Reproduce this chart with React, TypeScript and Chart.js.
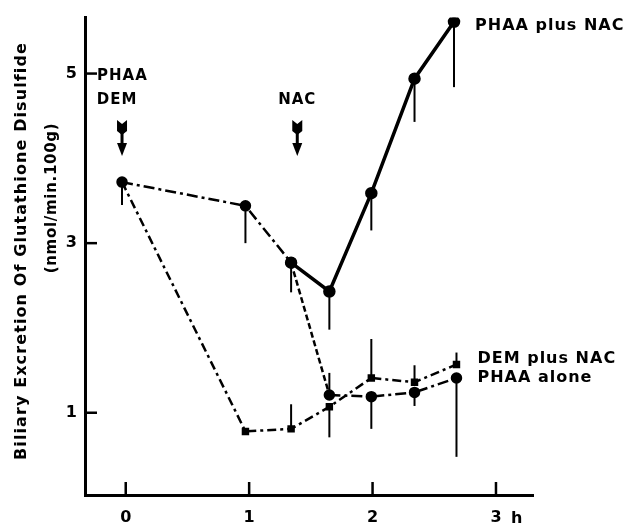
import React, { useEffect, useRef } from "react";
import { Chart, registerables } from "chart.js";
Chart.register(...registerables);

// ---- data ----
const tickHours = [0, 1, 2, 3];
const tickValues = [1, 3, 5];

const phaaNacTimes = [1.34, 1.65, 1.99, 2.34, 2.66];
const phaaNacValues = [2.77, 2.43, 3.59, 4.94, 5.61];
const phaaNacErrEnds = [2.42, 1.98, 3.15, 4.43, 4.84];

const phaaAloneTimes = [-0.03, 0.97, 1.34, 1.65, 1.99, 2.34, 2.68];
const phaaAloneValues = [3.72, 3.44, 2.77, 1.21, 1.19, 1.24, 1.41];
const phaaAloneErrEnds: (number | null)[] = [3.45, 3.0, null, 1.47, 0.81, 1.08, 0.48];

const demNacTimes = [-0.03, 0.97, 1.34, 1.65, 1.99, 2.34, 2.68];
const demNacValues = [3.72, 0.78, 0.81, 1.07, 1.41, 1.36, 1.57];
const demNacErrEnds: (number | null)[] = [null, null, 1.1, 0.71, 1.87, 1.56, 1.71];

const seriesNames = ["PHAA plus NAC", "PHAA alone", "DEM plus NAC"];
const doseTimes = [-0.03, 1.39];
const doseLabels = ["DEM", "NAC"];
const phaaLabel = "PHAA";
const yTitle = "Biliary Excretion Of Glutathione Disulfide";
const yUnit = "(nmol/min.100g)";
const xUnit = "h";

const FONT = "'DejaVu Sans', 'Liberation Sans', Arial, sans-serif";

const toPts = (xs: number[], ys: number[]) => xs.map((x, i) => ({ x, y: ys[i] }));

const errSets = [phaaNacErrEnds, phaaAloneErrEnds, demNacErrEnds];
const legendOffsets = [4, 0, -6];

const overlay = {
  id: "overlay",
  beforeDatasetsDraw(chart: any) {
    const ctx = chart.ctx;
    const xs = chart.scales.x;
    const ys = chart.scales.y;
    ctx.save();
    ctx.strokeStyle = "#000";
    ctx.lineWidth = 2;
    chart.data.datasets.forEach((ds: any, di: number) => {
      const ends = errSets[di];
      ds.data.forEach((p: any, i: number) => {
        const e = ends[i];
        if (e == null) return;
        const px = xs.getPixelForValue(p.x);
        ctx.beginPath();
        ctx.moveTo(px, ys.getPixelForValue(p.y));
        ctx.lineTo(px, ys.getPixelForValue(e));
        ctx.stroke();
      });
    });
    ctx.restore();
  },
  afterDraw(chart: any) {
    const ctx = chart.ctx;
    const xs = chart.scales.x;
    const ys = chart.scales.y;
    const area = chart.chartArea;
    ctx.save();
    ctx.fillStyle = "#000";
    ctx.strokeStyle = "#000";
    // inner ticks
    ctx.lineWidth = 2.5;
    ys.ticks.forEach((t: any) => {
      const py = ys.getPixelForValue(t.value);
      ctx.beginPath();
      ctx.moveTo(area.left, py);
      ctx.lineTo(area.left + 12, py);
      ctx.stroke();
    });
    xs.ticks.forEach((t: any) => {
      const px = xs.getPixelForValue(t.value);
      ctx.beginPath();
      ctx.moveTo(px, area.bottom);
      ctx.lineTo(px, area.bottom - 13);
      ctx.stroke();
    });
    // x unit
    ctx.font = `bold 16px ${FONT}`;
    ctx.textBaseline = "middle";
    ctx.textAlign = "left";
    ctx.fillText(xUnit, xs.getPixelForValue(tickHours[tickHours.length - 1]) + 15, area.bottom + 24);

    // y titles
    (ctx as any).letterSpacing = "1.1px";
    ctx.font = `bold 16px ${FONT}`;
    ctx.textAlign = "center";
    ctx.textBaseline = "alphabetic";
    ctx.save();
    ctx.translate(26, 251);
    ctx.rotate(-Math.PI / 2);
    ctx.fillText(yTitle, 0, 0);
    ctx.restore();
    (ctx as any).letterSpacing = "0.7px";
    ctx.font = `bold 15px ${FONT}`;
    ctx.save();
    ctx.translate(56, 198);
    ctx.rotate(-Math.PI / 2);
    ctx.fillText(yUnit, 0, 0);
    ctx.restore();

    // dose arrows
    (ctx as any).letterSpacing = "1px";
    ctx.font = `bold 15px ${FONT}`;
    ctx.textBaseline = "middle";
    ctx.textAlign = "left";
    ctx.fillText(phaaLabel, area.left + 12, ys.getPixelForValue(5) + 3);
    doseTimes.forEach((t, i) => {
      const px = xs.getPixelForValue(t);
      ctx.textAlign = "center";
      ctx.fillText(doseLabels[i], px - (i === 0 ? 5 : 0), 100);
      const top = 120;
      // fletching
      ctx.beginPath();
      ctx.moveTo(px - 5, top);
      ctx.lineTo(px, top + 4);
      ctx.lineTo(px + 5, top);
      ctx.lineTo(px + 5, top + 11);
      ctx.lineTo(px, top + 15);
      ctx.lineTo(px - 5, top + 11);
      ctx.closePath();
      ctx.fill();
      ctx.lineWidth = 3;
      ctx.beginPath();
      ctx.moveTo(px, top + 12);
      ctx.lineTo(px, top + 25);
      ctx.stroke();
      ctx.beginPath();
      ctx.moveTo(px - 5, top + 23);
      ctx.lineTo(px + 5, top + 23);
      ctx.lineTo(px, top + 36);
      ctx.closePath();
      ctx.fill();
    });

    // series labels
    (ctx as any).letterSpacing = "1px";
    ctx.font = `bold 16px ${FONT}`;
    ctx.textAlign = "left";
    ctx.textBaseline = "middle";
    chart.data.datasets.forEach((ds: any, di: number) => {
      const last = ds.data[ds.data.length - 1];
      const px = xs.getPixelForValue(last.x);
      const py = ys.getPixelForValue(last.y);
      ctx.fillText(seriesNames[di], px + 21, py + legendOffsets[di]);
    });
    ctx.restore();
  },
};

export default function App() {
  const ref = useRef<HTMLCanvasElement | null>(null);
  useEffect(() => {
    document.body.style.margin = "0";
    const chart = new Chart(ref.current!, {
      type: "line",
      data: {
        datasets: [
          {
            label: seriesNames[0],
            data: toPts(phaaNacTimes, phaaNacValues),
            borderColor: "#000",
            backgroundColor: "#000",
            borderWidth: 3.5,
            pointRadius: 4.5,
            pointStyle: "circle",
          },
          {
            label: seriesNames[1],
            data: toPts(phaaAloneTimes, phaaAloneValues),
            borderColor: "#000",
            backgroundColor: "#000",
            borderWidth: 2.5,
            borderDash: [11, 4, 3, 4],
            pointRadius: 4.5,
            pointStyle: "circle",
            segment: {
              borderDash: (c: any) => (c.p0DataIndex === 2 ? [6, 3] : undefined),
            },
          },
          {
            label: seriesNames[2],
            data: toPts(demNacTimes, demNacValues),
            borderColor: "#000",
            backgroundColor: "#000",
            borderWidth: 2.5,
            borderDash: [9, 4, 3, 4],
            pointRadius: 3.5,
            pointStyle: "rect",
          },
        ],
      },
      options: {
        animation: false,
        responsive: false,
        devicePixelRatio: 1,
        layout: { padding: { left: 60, top: 12, right: 95, bottom: 0 } },
        plugins: { legend: { display: false }, tooltip: { enabled: false } },
        scales: {
          x: {
            type: "linear",
            min: -0.33,
            max: 3.3,
            afterFit: (s: any) => { s.height = 32; },
            afterBuildTicks: (s: any) => { s.ticks = tickHours.map((v) => ({ value: v })); },
            grid: { display: true, drawOnChartArea: false, drawTicks: false },
            border: { display: true, color: "#000", width: 3 },
            ticks: { color: "#000", font: { family: FONT, size: 16, weight: "bold" }, padding: 13 },
          },
          y: {
            type: "linear",
            min: 0.03,
            max: 5.66,
            afterFit: (s: any) => { s.width = 25; },
            afterBuildTicks: (s: any) => { s.ticks = tickValues.map((v) => ({ value: v })); },
            grid: { display: true, drawOnChartArea: false, drawTicks: false },
            border: { display: true, color: "#000", width: 3 },
            ticks: { color: "#000", font: { family: FONT, size: 16, weight: "bold" }, padding: 8 },
          },
        },
      },
      plugins: [overlay],
    } as any);
    return () => chart.destroy();
  }, []);
  return (
    <div style={{ position: "fixed", left: 0, top: 0, width: 628, height: 527, background: "#fff" }}>
      <canvas ref={ref} width={628} height={527} style={{ width: 628, height: 527 }} />
    </div>
  );
}
